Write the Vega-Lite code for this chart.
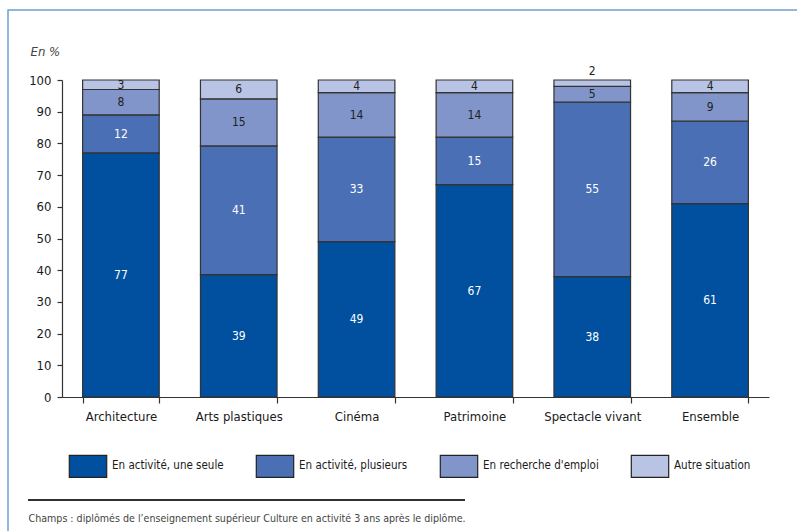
{
  "$schema": "https://vega.github.io/schema/vega-lite/v6.json",
  "width": 790,
  "height": 522,
  "autosize": {"type": "none"},
  "padding": {"left": 8, "top": 10, "right": 0, "bottom": 0},
  "background": "white",
  "config": {
    "font": "Liberation Sans Narrow, DejaVu Sans Condensed, sans-serif",
    "view": {"stroke": "#6f9fd4", "strokeWidth": 1.5},
    "axis": {
      "grid": false,
      "labelFont": "Liberation Sans Narrow, DejaVu Sans Condensed, sans-serif",
      "labelFontSize": 13,
      "labelColor": "#1a1a1a",
      "domainColor": "#333333",
      "tickColor": "#333333",
      "domainWidth": 1.2,
      "tickWidth": 1.2
    },
    "legend": {
      "labelFont": "Liberation Sans Narrow, DejaVu Sans Condensed, sans-serif"
    }
  },
  "data": {
    "values": [
      {"filiere": "Architecture", "statut": "En activité, une seule", "valeur": 77},
      {"filiere": "Architecture", "statut": "En activité, plusieurs", "valeur": 12},
      {"filiere": "Architecture", "statut": "En recherche d'emploi", "valeur": 8},
      {"filiere": "Architecture", "statut": "Autre situation", "valeur": 3},
      {"filiere": "Arts plastiques", "statut": "En activité, une seule", "valeur": 39},
      {"filiere": "Arts plastiques", "statut": "En activité, plusieurs", "valeur": 41},
      {"filiere": "Arts plastiques", "statut": "En recherche d'emploi", "valeur": 15},
      {"filiere": "Arts plastiques", "statut": "Autre situation", "valeur": 6},
      {"filiere": "Cinéma", "statut": "En activité, une seule", "valeur": 49},
      {"filiere": "Cinéma", "statut": "En activité, plusieurs", "valeur": 33},
      {"filiere": "Cinéma", "statut": "En recherche d'emploi", "valeur": 14},
      {"filiere": "Cinéma", "statut": "Autre situation", "valeur": 4},
      {"filiere": "Patrimoine", "statut": "En activité, une seule", "valeur": 67},
      {"filiere": "Patrimoine", "statut": "En activité, plusieurs", "valeur": 15},
      {"filiere": "Patrimoine", "statut": "En recherche d'emploi", "valeur": 14},
      {"filiere": "Patrimoine", "statut": "Autre situation", "valeur": 4},
      {"filiere": "Spectacle vivant", "statut": "En activité, une seule", "valeur": 38},
      {"filiere": "Spectacle vivant", "statut": "En activité, plusieurs", "valeur": 55},
      {"filiere": "Spectacle vivant", "statut": "En recherche d'emploi", "valeur": 5},
      {"filiere": "Spectacle vivant", "statut": "Autre situation", "valeur": 2},
      {"filiere": "Ensemble", "statut": "En activité, une seule", "valeur": 61},
      {"filiere": "Ensemble", "statut": "En activité, plusieurs", "valeur": 26},
      {"filiere": "Ensemble", "statut": "En recherche d'emploi", "valeur": 9},
      {"filiere": "Ensemble", "statut": "Autre situation", "valeur": 4}
    ]
  },
  "transform": [
    {"calculate": "indexof([\"En activité, une seule\", \"En activité, plusieurs\", \"En recherche d'emploi\", \"Autre situation\"], datum.statut)", "as": "rang"},
    {"stack": "valeur", "groupby": ["filiere"], "sort": [{"field": "rang", "order": "ascending"}], "offset": "normalize", "as": ["y0", "y1"]},
    {"calculate": "datum.valeur < 3 ? datum.y1 + 0.028 : (datum.y0 + datum.y1) / 2", "as": "ylab"}
  ],
  "layer": [
    {
      "layer": [
        {
          "mark": {"type": "bar", "stroke": "#333333", "strokeWidth": 1.2},
          "encoding": {
            "x": {
              "field": "filiere",
              "type": "nominal",
              "sort": null,
              "scale": {"range": [54, 761], "paddingInner": 0.35, "paddingOuter": 0.175},
              "axis": {
                "title": "Champs : diplômés de l’enseignement supérieur Culture en activité 3 ans après le diplôme.",
                "titleX": 20,
                "titleY": 124,
                "titleAlign": "left",
                "titleAnchor": "start",
                "titleBaseline": "alphabetic",
                "titleFontSize": 10.6,
                "titleFontWeight": "normal",
                "titleColor": "#444444",
                "titleFont": "Liberation Sans Narrow, DejaVu Sans Condensed, sans-serif",
                "labelAngle": 0,
                "labelPadding": 7,
                "tickSize": 6,
                "tickBand": "extent",
                "offset": -135
              }
            },
            "y": {
              "field": "y1",
              "type": "quantitative",
              "scale": {"domain": [0, 1], "range": [387, 70]},
              "axis": {
                "values": [0, 0.1, 0.2, 0.3, 0.4, 0.5, 0.6, 0.7, 0.8, 0.9, 1],
                "labelExpr": "round(datum.value * 100)",
                "title": "En %",
                "titleAngle": 0,
                "titleX": -32,
                "titleY": 45,
                "titleAlign": "left",
                "titleBaseline": "alphabetic",
                "titleFontStyle": "italic",
                "titleFontWeight": "normal",
                "titleFontSize": 13,
                "titleColor": "#444444",
                "titleFont": "Liberation Sans Narrow, DejaVu Sans Condensed, sans-serif",
                "tickSize": 5,
                "labelPadding": 6,
                "offset": -54
              }
            },
            "y2": {"field": "y0"},
            "color": {
              "field": "statut",
              "type": "nominal",
              "scale": {
                "domain": ["En activité, une seule", "En activité, plusieurs", "En recherche d'emploi", "Autre situation"],
                "range": ["#00509f", "#4a6fb5", "#8195cb", "#b9c4e4"]
              },
              "legend": {
                "title": null,
                "orient": "none",
                "direction": "horizontal",
                "columns": 4,
                "legendX": 68,
                "legendY": 444,
                "padding": 0,
                "symbolType": "M-1.7,-1H1.7V1H-1.7Z",
                "symbolSize": 484,
                "symbolStrokeColor": "#222222",
                "symbolStrokeWidth": 1.2,
                "symbolOpacity": 1,
                "labelFontSize": 11.5,
                "labelColor": "#1a1a1a",
                "labelOffset": 12,
                "columnPadding": 29
              }
            }
          }
        },
        {
          "mark": {"type": "text", "fontSize": 12, "baseline": "middle", "align": "center"},
          "encoding": {
            "x": {"field": "filiere", "type": "nominal", "sort": null},
            "y": {"field": "ylab", "type": "quantitative"},
            "text": {"field": "valeur", "type": "quantitative"},
            "color": {
              "condition": {"test": "datum.rang < 2", "value": "white"},
              "value": "#222222"
            }
          }
        }
      ]
    },
    {
      "mark": {"type": "rule", "stroke": "#333333", "strokeWidth": 1},
      "encoding": {
        "x": {"datum": 0, "type": "quantitative", "scale": {"domain": [0, 1], "range": [20, 457]}, "axis": null},
        "x2": {"datum": 1},
        "y": {"datum": -0.325, "type": "quantitative"}
      }
    }
  ],
  "resolve": {"scale": {"x": "independent"}, "axis": {"x": "independent"}}
}
